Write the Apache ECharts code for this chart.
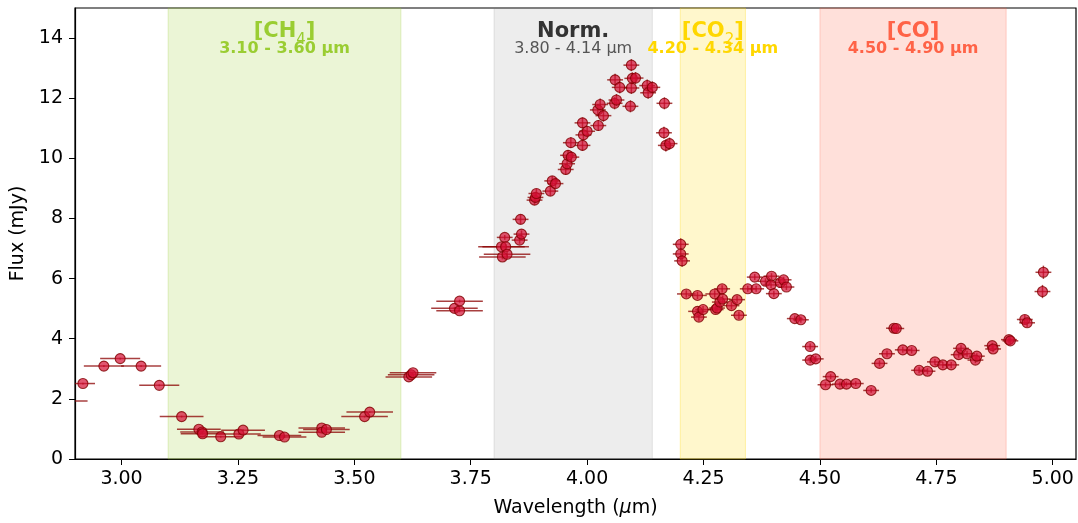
<!DOCTYPE html>
<html>
<head>
<meta charset="utf-8">
<title>Flux spectrum</title>
<script src="https://cdn.jsdelivr.net/npm/echarts@6/dist/echarts.min.js"></script>
<style>
  html, body { margin: 0; padding: 0; background: #fff; }
  #chart { width: 1078px; height: 523px; }
</style>
</head>
<body>
<div id="chart"></div>
<script type="text/javascript">
    // data
    var wavelength = [2.885, 2.917, 2.962, 2.997, 3.042, 3.081, 3.129, 3.166, 3.173, 3.174,
        3.213, 3.252, 3.261, 3.339, 3.350, 3.430, 3.430, 3.440, 3.522, 3.533,
        3.617, 3.622, 3.626, 3.715, 3.726, 3.726, 3.816, 3.818, 3.823, 3.825,
        3.828, 3.855, 3.859, 3.857, 3.887, 3.889, 3.891, 3.921, 3.925, 3.932,
        3.954, 3.957, 3.959, 3.966, 3.965, 3.990, 3.992, 4.000, 3.990, 4.024,
        4.023, 4.028, 4.035, 4.059, 4.063, 4.060, 4.070, 4.093, 4.095, 4.097,
        4.104, 4.095, 4.129, 4.131, 4.140, 4.166, 4.165, 4.169, 4.177, 4.201,
        4.201, 4.204, 4.213, 4.237, 4.237, 4.240, 4.249, 4.274, 4.276, 4.279,
        4.285, 4.290, 4.291, 4.310, 4.322, 4.326, 4.345, 4.363, 4.360, 4.383,
        4.396, 4.395, 4.401, 4.415, 4.422, 4.428, 4.446, 4.459, 4.479, 4.479,
        4.491, 4.512, 4.523, 4.543, 4.557, 4.577, 4.610, 4.628, 4.644, 4.659,
        4.664, 4.678, 4.697, 4.713, 4.731, 4.747, 4.764, 4.782, 4.798, 4.803,
        4.816, 4.834, 4.837, 4.870, 4.872, 4.906, 4.909, 4.940, 4.945, 4.978,
        4.980];
    var flux = [1.93, 2.51, 3.09, 3.34, 3.09, 2.45, 1.41, 0.99, 0.90, 0.84,
        0.74, 0.83, 0.96, 0.78, 0.73, 1.03, 0.89, 0.98, 1.41, 1.56,
        2.73, 2.80, 2.87, 5.01, 4.93, 5.25, 7.06, 6.72, 7.37, 7.06,
        6.81, 7.28, 7.48, 7.97, 8.61, 8.70, 8.83, 8.91, 9.25, 9.16,
        9.63, 9.82, 10.10, 10.04, 10.52, 10.43, 10.78, 10.90, 11.18, 11.09,
        11.61, 11.79, 11.42, 11.83, 11.94, 12.61, 12.36, 11.73, 12.34, 12.66,
        12.67, 13.10, 12.42, 12.18, 12.36, 11.83, 10.85, 10.43, 10.49, 7.14,
        6.82, 6.59, 5.49, 5.44, 4.91, 4.72, 4.97, 5.49, 4.97, 5.02,
        5.22, 5.66, 5.32, 5.10, 5.30, 4.78, 5.66, 5.66, 6.05, 5.91,
        6.08, 5.79, 5.50, 5.87, 5.96, 5.72, 4.67, 4.63, 3.74, 3.29,
        3.33, 2.47, 2.74, 2.49, 2.49, 2.51, 2.28, 3.18, 3.50, 4.35,
        4.34, 3.63, 3.61, 2.95, 2.92, 3.23, 3.13, 3.13, 3.47, 3.68,
        3.50, 3.29, 3.42, 3.77, 3.66, 3.97, 3.93, 4.64, 4.53, 5.57,
        6.21];
    var waveErr = [0.042, 0.026, 0.043, 0.043, 0.043, 0.043, 0.047, 0.047, 0.047, 0.047,
        0.047, 0.047, 0.047, 0.047, 0.047, 0.050, 0.050, 0.050, 0.050, 0.050,
        0.050, 0.050, 0.050, 0.050, 0.050, 0.050, 0.050, 0.050, 0.017, 0.050,
        0.050, 0.017, 0.017, 0.017, 0.017, 0.017, 0.017, 0.017, 0.017, 0.017,
        0.017, 0.017, 0.017, 0.017, 0.017, 0.017, 0.017, 0.017, 0.017, 0.017,
        0.017, 0.017, 0.017, 0.017, 0.017, 0.017, 0.017, 0.017, 0.017, 0.017,
        0.017, 0.017, 0.017, 0.017, 0.017, 0.017, 0.017, 0.017, 0.017, 0.017,
        0.017, 0.017, 0.020, 0.020, 0.020, 0.017, 0.017, 0.020, 0.017, 0.017,
        0.017, 0.017, 0.017, 0.017, 0.017, 0.017, 0.017, 0.017, 0.017, 0.017,
        0.017, 0.017, 0.017, 0.017, 0.017, 0.017, 0.017, 0.017, 0.017, 0.017,
        0.017, 0.017, 0.017, 0.017, 0.017, 0.017, 0.017, 0.017, 0.017, 0.017,
        0.017, 0.017, 0.017, 0.017, 0.017, 0.017, 0.017, 0.017, 0.017, 0.017,
        0.017, 0.017, 0.017, 0.017, 0.017, 0.017, 0.017, 0.017, 0.017, 0.017,
        0.017];
    var fluxErr = [0.03, 0.03, 0.03, 0.03, 0.03, 0.03, 0.03, 0.03, 0.03, 0.03,
        0.03, 0.03, 0.03, 0.03, 0.03, 0.03, 0.03, 0.03, 0.03, 0.03,
        0.03, 0.03, 0.03, 0.05, 0.05, 0.05, 0.08, 0.08, 0.08, 0.08,
        0.08, 0.12, 0.12, 0.15, 0.15, 0.15, 0.15, 0.15, 0.15, 0.15,
        0.18, 0.18, 0.18, 0.18, 0.18, 0.18, 0.18, 0.18, 0.18, 0.18,
        0.20, 0.20, 0.20, 0.20, 0.20, 0.20, 0.20, 0.20, 0.20, 0.20,
        0.20, 0.20, 0.20, 0.20, 0.20, 0.20, 0.20, 0.20, 0.20, 0.20,
        0.20, 0.20, 0.12, 0.12, 0.12, 0.12, 0.12, 0.12, 0.12, 0.12,
        0.12, 0.12, 0.12, 0.12, 0.12, 0.12, 0.10, 0.10, 0.10, 0.10,
        0.10, 0.10, 0.10, 0.10, 0.10, 0.10, 0.10, 0.10, 0.10, 0.10,
        0.10, 0.08, 0.08, 0.08, 0.08, 0.08, 0.08, 0.10, 0.10, 0.10,
        0.10, 0.10, 0.10, 0.10, 0.10, 0.10, 0.10, 0.10, 0.10, 0.10,
        0.10, 0.10, 0.10, 0.10, 0.10, 0.12, 0.12, 0.15, 0.15, 0.22,
        0.22];

    // shaded bands
    var bandStart = [3.10, 3.80, 4.20, 4.50];
    var bandEnd = [3.60, 4.14, 4.34, 4.90];
    var bandTitle = ['[CH', 'Norm.', '[CO', '[CO]'];
    var bandSub = ['4', '', '2', ''];
    var bandRange = ['3.10 - 3.60 µm', '3.80 - 4.14 µm', '4.20 - 4.34 µm', '4.50 - 4.90 µm'];
    var bandFill = ['rgba(154,205,50,0.2)', 'rgba(128,128,128,0.14)', 'rgba(255,215,0,0.2)', 'rgba(255,99,71,0.2)'];
    var bandEdge = ['rgba(154,205,50,0.25)', 'rgba(128,128,128,0.18)', 'rgba(255,215,0,0.3)', 'rgba(255,99,71,0.25)'];
    var bandText = ['#9ACD32', '#333333', '#FFD700', '#FF6347'];
    var bandRangeText = ['#9ACD32', '#555555', '#FFD700', '#FF6347'];

    var xTicks = [3.00, 3.25, 3.50, 3.75, 4.00, 4.25, 4.50, 4.75, 5.00];
    var yTicks = [0, 2, 4, 6, 8, 10, 12, 14];

    var FONT = 'DejaVu Sans';

    var points = [];
    for (var i = 0; i < wavelength.length; i++) {
        points.push([wavelength[i], flux[i], waveErr[i], fluxErr[i]]);
    }

    var areas = [];
    for (var b = 0; b < bandStart.length; b++) {
        var fmt = '{t|' + bandTitle[b] + '}';
        if (bandSub[b]) fmt += '{s|' + bandSub[b] + '}{t|]}';
        fmt += '\n{r|' + bandRange[b] + '}';
        areas.push([{
            xAxis: bandStart[b],
            itemStyle: { color: bandFill[b], borderColor: bandEdge[b], borderWidth: 1 },
            label: {
                show: true,
                position: 'insideTop',
                distance: 14,
                formatter: fmt,
                rich: {
                    t: { fontFamily: FONT, fontSize: 21, fontWeight: 'bold', color: bandText[b], lineHeight: 21 },
                    s: { fontFamily: FONT, fontSize: 15, color: bandText[b], lineHeight: 21, verticalAlign: 'bottom', padding: [0, 0, -5, 0] },
                    r: { fontFamily: FONT, fontSize: 16, fontWeight: b === 1 ? 'normal' : 'bold', color: bandRangeText[b], lineHeight: 12 }
                }
            }
        }, { xAxis: bandEnd[b] }]);
    }

    var myChart = echarts.init(document.getElementById('chart'));
    var option = {
        backgroundColor: '#fff',
        animation: false,
        grid: {
            left: 75, right: 2, top: 8, bottom: 63,
            show: true, borderColor: '#000', borderWidth: 1.2, backgroundColor: 'transparent'
        },
        xAxis: {
            type: 'value',
            min: 2.9, max: 5.05,
            name: '{n|Wavelength (}{i|µ}{n|m)}',
            nameLocation: 'middle',
            nameGap: 40,
            nameTextStyle: {
                rich: {
                    n: { fontFamily: FONT, fontSize: 19, color: '#000' },
                    i: { fontFamily: FONT, fontSize: 19, fontStyle: 'italic', color: '#000' }
                }
            },
            axisLine: { show: true, lineStyle: { color: '#000', width: 1.2 } },
            axisTick: { show: true, length: 6, lineStyle: { color: '#000' }, customValues: xTicks },
            axisLabel: {
                fontFamily: FONT, fontSize: 19, color: '#000', margin: 11,
                customValues: xTicks,
                formatter: function (v) { return v.toFixed(2); }
            },
            splitLine: { show: false }
        },
        yAxis: {
            type: 'value',
            min: 0, max: 15,
            name: 'Flux (mJy)',
            nameLocation: 'middle',
            nameGap: 43,
            nameTextStyle: { fontFamily: FONT, fontSize: 19, color: '#000' },
            axisLine: { show: true, lineStyle: { color: '#000', width: 1.2 } },
            axisTick: { show: true, length: 6, lineStyle: { color: '#000' }, customValues: yTicks },
            axisLabel: { fontFamily: FONT, fontSize: 19, color: '#000', margin: 12, customValues: yTicks },
            splitLine: { show: false }
        },
        series: [
            {
                // bands
                type: 'line',
                data: [],
                z: 1,
                silent: true,
                markArea: { silent: true, data: areas }
            },
            {
                // error bars
                type: 'custom',
                z: 2,
                clip: true,
                data: points,
                renderItem: function (params, api) {
                    var x = api.value(0), y = api.value(1), xe = api.value(2), ye = api.value(3);
                    var l = api.coord([x - xe, y]), r = api.coord([x + xe, y]);
                    var t = api.coord([x, y + ye]), d = api.coord([x, y - ye]);
                    var st = { stroke: 'rgba(139,0,0,0.75)', lineWidth: 1.5 };
                    return {
                        type: 'group',
                        children: [
                            { type: 'line', shape: { x1: l[0], y1: l[1], x2: r[0], y2: r[1] }, style: st },
                            { type: 'line', shape: { x1: t[0], y1: t[1], x2: d[0], y2: d[1] }, style: st }
                        ]
                    };
                }
            },
            {
                type: 'scatter',
                z: 3,
                clip: true,
                symbol: 'circle',
                symbolSize: 10,
                data: points.map(function (p) { return [p[0], p[1]]; }),
                itemStyle: { color: 'rgba(212,16,52,0.88)', borderColor: '#800000', borderWidth: 1.1 }
            }
        ]
    };
    myChart.setOption(option);
</script>
</body>
</html>
